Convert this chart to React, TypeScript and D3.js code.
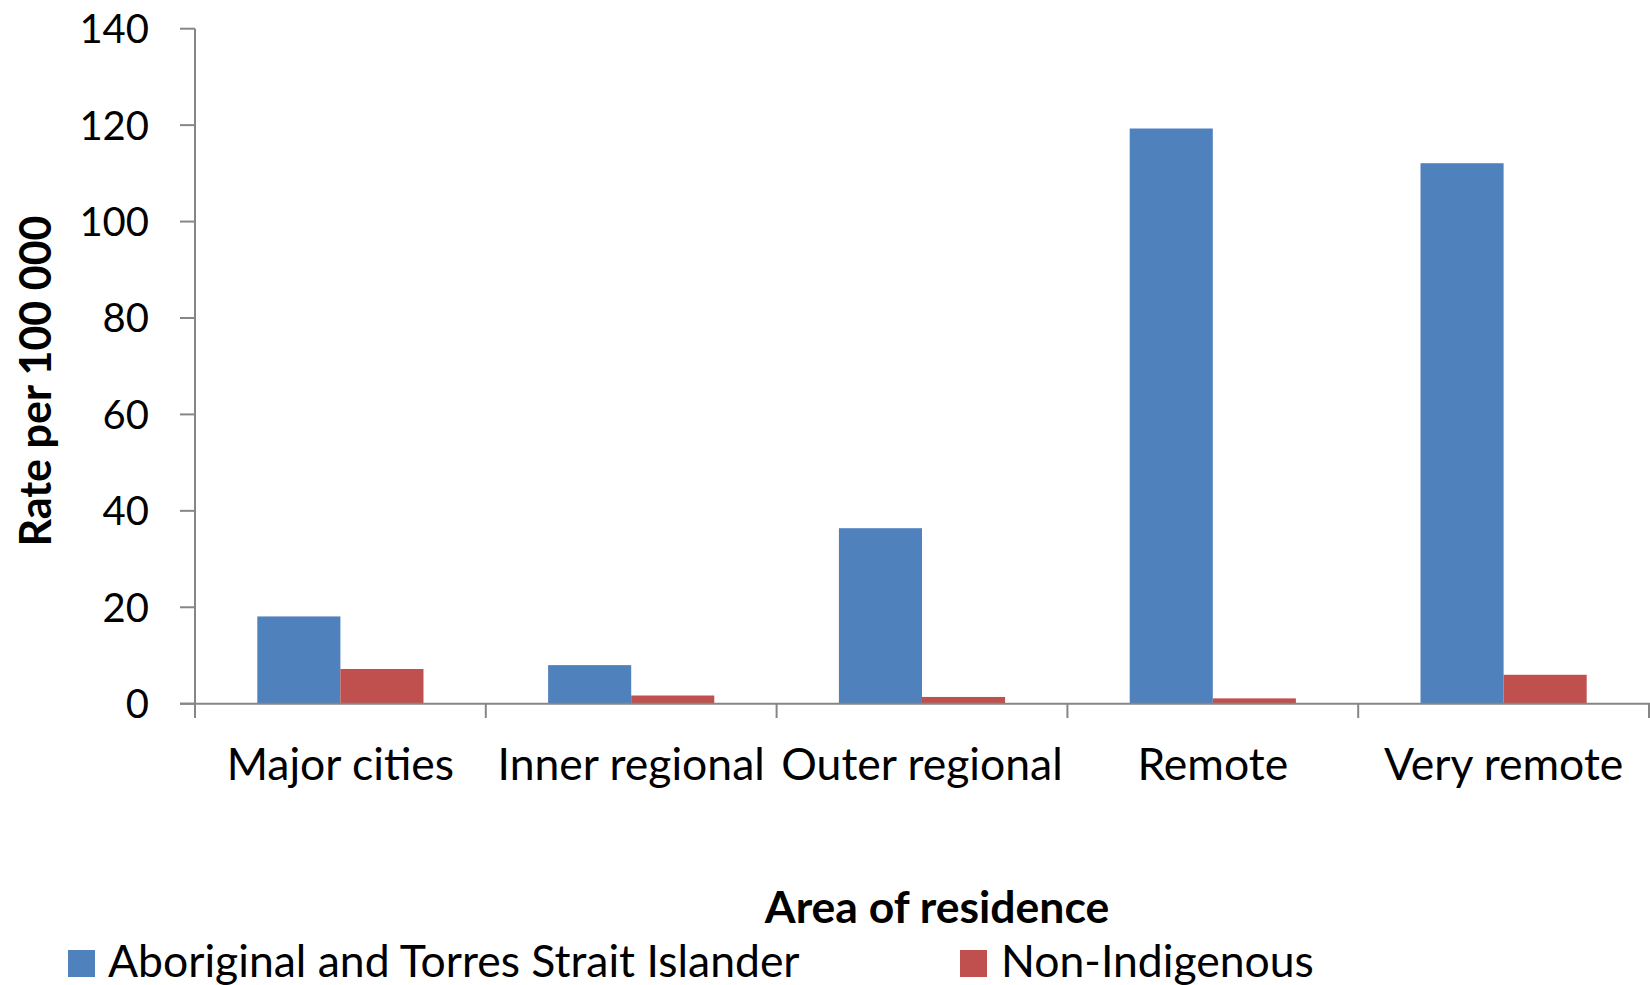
import React from "react";
import * as d3 from "d3";

const categories = ["Major cities", "Inner regional", "Outer regional", "Remote", "Very remote"];
const seriesNames = ["Aboriginal and Torres Strait Islander", "Non-Indigenous"];
const indigenous = [18.1, 8.0, 36.4, 119.3, 112.1];
const nonIndigenous = [7.2, 1.7, 1.4, 1.1, 6.0];
const yTicks = [0, 20, 40, 60, 80, 100, 120, 140];
const colors = ["#4F81BD", "#C0504D"];

const W = 1650;
const H = 985;
const FONT = "Lato, 'Open Sans', sans-serif";

export default function App() {
  const y = d3.scaleLinear().domain([0, 140]).range([703.7, 28.7]);
  const x = d3.scaleBand<string>().domain(categories).range([195, 1649]).padding(0);
  const xs = d3
    .scaleBand<string>()
    .domain(seriesNames)
    .range([0, x.bandwidth()])
    .paddingInner(0)
    .paddingOuter(0.75);
  const data = [indigenous, nonIndigenous];
  const axisColor = "#868686";
  const tickFs = 40;
  const fs = 44.5;

  return (
    <svg
      width={W}
      height={H}
      style={{ position: "absolute", left: 0, top: 0, background: "#fff" }}
      fontFamily={FONT}
    >
      {/* bars */}
      {data.map((vals, si) =>
        vals.map((v, ci) => (
          <rect
            key={`${si}-${ci}`}
            x={(x(categories[ci]) as number) + (xs(seriesNames[si]) as number)}
            y={y(v)}
            width={xs.bandwidth()}
            height={y(0) - y(v)}
            fill={colors[si]}
          />
        ))
      )}
      {/* y axis */}
      <line x1={195} x2={195} y1={y(140)} y2={y(0)} stroke={axisColor} strokeWidth={2} />
      {yTicks.map((t) => (
        <g key={t}>
          <line x1={180} x2={195} y1={y(t)} y2={y(t)} stroke={axisColor} strokeWidth={2} />
          <text x={149} y={y(t)} dy="0.36em" textAnchor="end" fontSize={tickFs} fill="#000">
            {t}
          </text>
        </g>
      ))}
      {/* x axis */}
      <line x1={180} x2={1650} y1={y(0)} y2={y(0)} stroke={axisColor} strokeWidth={2} />
      {[...categories.map((c) => x(c) as number), 1649].map((px, i) => (
        <line key={i} x1={px} x2={px} y1={y(0)} y2={718} stroke={axisColor} strokeWidth={2} />
      ))}
      {categories.map((c) => (
        <text
          key={c}
          x={(x(c) as number) + x.bandwidth() / 2}
          y={780}
          textAnchor="middle"
          fontSize={fs}
          fill="#000"
        >
          {c}
        </text>
      ))}
      {/* axis titles */}
      <text x={937} y={923} textAnchor="middle" fontSize={fs} fontWeight="bold" fill="#000">
        Area of residence
      </text>
      <text
        transform={`translate(51, 381) rotate(-90)`}
        textAnchor="middle"
        fontSize={43}
        fontWeight="bold"
        fill="#000"
      >
        Rate per 100 000
      </text>
      {/* legend */}
      <rect x={68} y={950} width={27} height={27} fill={colors[0]} />
      <text x={108} y={977} fontSize={fs} fill="#000">
        {seriesNames[0]}
      </text>
      <rect x={960} y={950} width={27} height={27} fill={colors[1]} />
      <text x={1001} y={977} fontSize={fs} fill="#000">
        {seriesNames[1]}
      </text>
    </svg>
  );
}
